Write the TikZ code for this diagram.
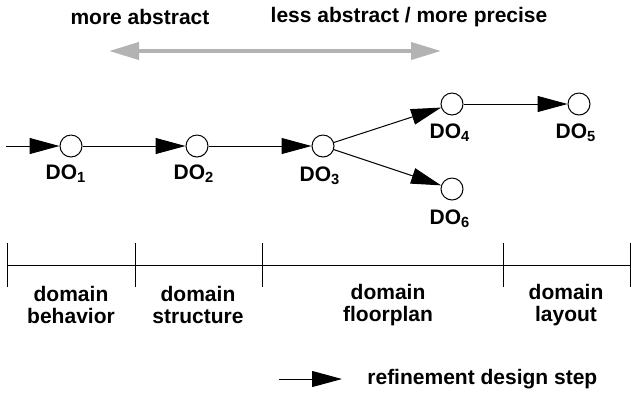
\documentclass[tikz,border=0pt]{standalone}
\usepackage{fontspec}
\setmainfont{Liberation Sans}
\usetikzlibrary{arrows.meta, positioning}
\definecolor{cinza}{RGB}{179, 179, 179}
\tikzset{
  passo/.style={-{Triangle[length=15pt, width=8pt]}, line width=0.5pt, black},
  rotulo/.style={font=\fontsize{10.5}{11}\selectfont\bfseries, inner sep=0pt, align=center},
}

\begin{document}
\begin{tikzpicture}[
    x=0.5pt, y=-0.5pt,
    objeto/.style={
        circle,
        draw,
        fill=white,
        line width=0.5pt,
        minimum size=11pt,
        inner sep=0pt
    },
    faixa/.style={
        line width=0.5pt
    }
]

\useasboundingbox (0,0) rectangle (631,393);

% abstraction axis
\node[rotulo] (abstrato) at (140,17) {more abstract};
\node[rotulo] (preciso) at (409,17) {less abstract / more precise};
\coordinate (eixoA) at (109,51);
\coordinate (eixoB) at (441,51);
\draw[{Triangle[length=15pt, width=8.5pt]}-{Triangle[length=15pt, width=8.5pt]}, cinza, line width=2pt] (eixoA) -- (eixoB);

% design objects
\coordinate (inicio) at (6,146);
\node[objeto] (do1) at (71,146) {};
\node[objeto] (do2) at (197,146) {};
\node[objeto] (do3) at (323,146) {};
\node[objeto] (do4) at (452,104) {};
\node[objeto] (do5) at (579,104) {};
\node[objeto] (do6) at (452,189) {};

\node[rotulo] (nome1) at (66,174) {DO\textsubscript{1}};
\node[rotulo] (nome2) at (194,174) {DO\textsubscript{2}};
\node[rotulo] (nome3) at (320,176) {DO\textsubscript{3}};
\node[rotulo] (nome4) at (450,133) {DO\textsubscript{4}};
\node[rotulo] (nome5) at (576,133) {DO\textsubscript{5}};
\node[rotulo] (nome6) at (450,219) {DO\textsubscript{6}};

\draw[passo] (inicio) -- (do1);
\draw[passo] (do1) -- (do2);
\draw[passo] (do2) -- (do3);
\draw[passo] (do3) -- (do4);
\draw[passo] (do4) -- (do5);
\draw[passo] (do3) -- (do6);

% domains
\draw[faixa] (7,265) -- (630,265);
\foreach \x in {7,135,262,503,630}
    \draw[faixa] (\x,243) -- (\x,287);

\node[rotulo] (comportamento) at (71,305) {domain\\behavior};
\node[rotulo] (estrutura) at (198,305) {domain\\structure};
\node[rotulo] (planta) at (388,305) {domain\\floorplan};
\node[rotulo] (layout) at (566,305) {domain\\layout};

% legend
\coordinate (legendaA) at (279,379);
\coordinate (legendaB) at (342,379);
\draw[passo] (legendaA) -- (legendaB);
\node[rotulo, anchor=west] (legenda) at (367,379) {refinement design step};

\end{tikzpicture}
\end{document}
